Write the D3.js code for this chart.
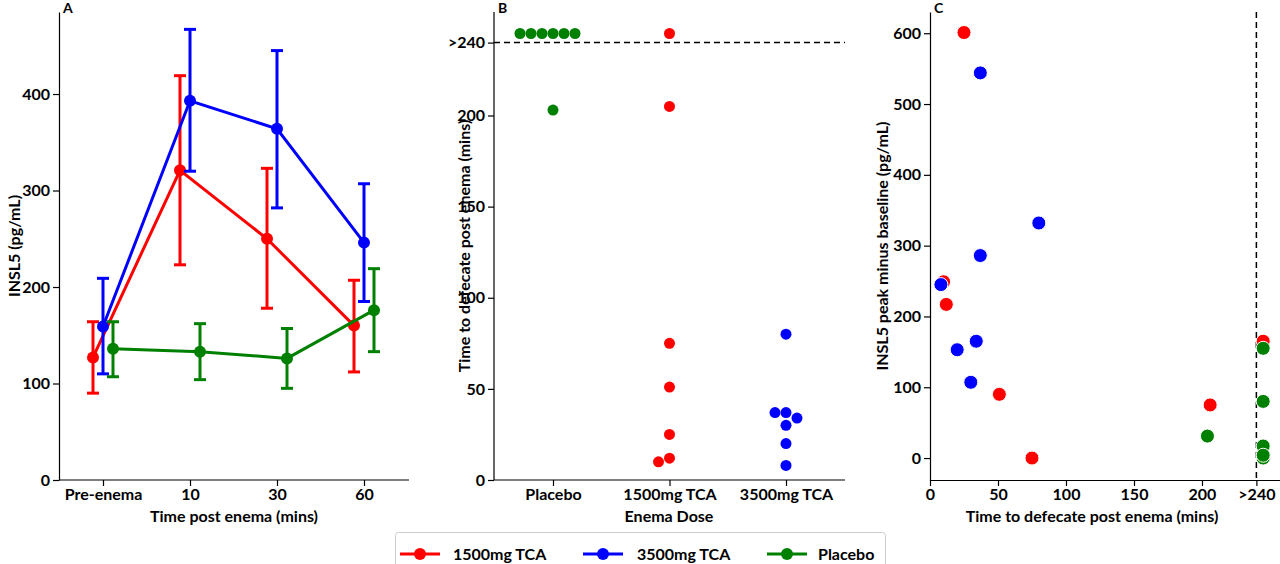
<!DOCTYPE html><html><head><meta charset="utf-8">
<script src="https://cdn.jsdelivr.net/npm/d3@7"></script>
<style>body{margin:0;background:#fff}text{font-family:Lato,"Open Sans",sans-serif;font-weight:bold}</style></head><body>
<svg id="c" width="1280" height="564"></svg>
<script>
// ---- Data ----
const timeLabels = ["Pre-enema","10","30","60"];
const seriesNames = ["1500mg TCA","3500mg TCA","Placebo"];
const colors = ["#ff0000","#0000ff","#008000"];
const meanRed = [127,321,250,160], loRed=[90,223,178,112], hiRed=[164,419,323,207];
const meanBlue = [159,393,364,246], loBlue=[110,320,282,185], hiBlue=[209,467,445,307];
const meanGreen = [136,133,126,176], loGreen=[107,104,95,133], hiGreen=[164,162,157,219];
const doseCats = ["Placebo","1500mg TCA","3500mg TCA"];
const timePlacebo = [245,245,245,245,245,245,203];
const time1500 = [245,205,75,51,25,12,10];
const time3500 = [80,37,37,34,30,20,8];
const cRedX=[25,10,12,51,75,206,245], cRedY=[601,249,217,90,0,75,165];
const cBlueX=[37,80,37,8,20,34,30], cBlueY=[544,332,286,245,153,165,107];
const cGreenX=[204,245,245,245,245,245], cGreenY=[31,155,80,17,0,4];

const svg=d3.select("#c");
const fs=16;
function xTitle(g,x,t){g.append("text").attr("x",x).attr("y",522).attr("text-anchor","middle").attr("font-size",fs).text(t);}
function yTitle(g,x,t){g.append("text").attr("transform",`translate(${x},246) rotate(-90)`).attr("text-anchor","middle").attr("font-size",fs).text(t);}
// ---- Panel A ----
{
 const x=d3.scalePoint().domain(timeLabels).range([103,364]);
 const y=d3.scaleLinear().domain([0,485]).range([480,12]);
 const g=svg.append("g");
 g.append("g").attr("transform","translate(0,480)").call(d3.axisBottom(x).tickSizeOuter(0)).call(a=>{a.select(".domain").attr("d","M59,0H409");});
 g.append("g").attr("transform","translate(59,0)").call(d3.axisLeft(y).tickValues([0,100,200,300,400]).tickSizeOuter(0));
 const S=[[meanRed,loRed,hiRed,-10],[meanBlue,loBlue,hiBlue,0],[meanGreen,loGreen,hiGreen,10]];
 S.forEach(([m,lo,hi,off],si)=>{
  const px=i=>x(timeLabels[i])+off;
  g.append("path").attr("d",d3.line().x((d,i)=>px(i)).y(d=>y(d))(m)).attr("fill","none").attr("stroke",colors[si]).attr("stroke-width",3);
  m.forEach((v,i)=>{
   const X=px(i);
   g.append("line").attr("x1",X).attr("x2",X).attr("y1",y(lo[i])).attr("y2",y(hi[i])).attr("stroke",colors[si]).attr("stroke-width",3);
   [lo[i],hi[i]].forEach(e=>g.append("line").attr("x1",X-6).attr("x2",X+6).attr("y1",y(e)).attr("y2",y(e)).attr("stroke",colors[si]).attr("stroke-width",3));
   g.append("circle").attr("cx",X).attr("cy",y(v)).attr("r",6).attr("fill",colors[si]);
  });
 });
 g.append("text").attr("x",63).attr("y",13).text("A").attr("font-size",14);
 xTitle(g,234,"Time post enema (mins)");
 yTitle(g,20,"INSL5 (pg/mL)");
}
// ---- Panel B ----
{
 const x=d3.scalePoint().domain(doseCats).range([553,786]);
 const y=d3.scaleLinear().domain([0,240]).range([480,42.6]);
 const g=svg.append("g");
 g.append("g").attr("transform","translate(0,480)").call(d3.axisBottom(x).tickSizeOuter(0)).call(a=>{a.select(".domain").attr("d","M494,0H845");});
 g.append("g").attr("transform","translate(494,0)").call(d3.axisLeft(y).tickValues([0,50,100,150,200,240]).tickFormat(d=>d===240?">240":d).tickSizeOuter(0)).call(a=>a.select(".domain").attr("d","M0,480V12"));
 g.append("line").attr("x1",494).attr("x2",845).attr("y1",y(240)).attr("y2",y(240)).attr("stroke","#000").attr("stroke-width",1.5).attr("stroke-dasharray","6,4");
 const groups=[timePlacebo,time1500,time3500], gc=[colors[2],colors[0],colors[1]];
 const r=5.5, dia=11, order=[0,-1,1,-2,2,-3,3];
 groups.forEach((vals,gi)=>{
  const placed=[];
  vals.forEach(v=>{
   const cy=y(v);
   let cx;
   for(const o of order){
    const tx=x(doseCats[gi])+o*dia;
    if(placed.every(p=>Math.hypot(p[0]-tx,p[1]-cy)>=dia-0.5)){cx=tx;break;}
   }
   placed.push([cx,cy]);
   g.append("circle").attr("cx",cx).attr("cy",cy).attr("r",r).attr("fill",gc[gi]);
  });
 });
 g.append("text").attr("x",498).attr("y",13).text("B").attr("font-size",14);
 xTitle(g,669,"Enema Dose");
 yTitle(g,470,"Time to defecate post enema (mins)");
}
// ---- Panel C ----
{
 const x=d3.scaleLinear().domain([0,257]).range([930,1279.5]);
 const y=d3.scaleLinear().domain([-31,630]).range([480,12]);
 const g=svg.append("g");
 g.append("g").attr("transform","translate(0,480)").call(d3.axisBottom(x).tickValues([0,50,100,150,200,240]).tickFormat(d=>d===240?">240":d).tickSizeOuter(0));
 g.append("g").attr("transform","translate(930,0)").call(d3.axisLeft(y).tickValues([0,100,200,300,400,500,600]).tickSizeOuter(0));
 g.append("line").attr("x1",x(240)).attr("x2",x(240)).attr("y1",12).attr("y2",480).attr("stroke","#000").attr("stroke-width",1.5).attr("stroke-dasharray","6,4");
 [[cRedX,cRedY,0],[cBlueX,cBlueY,1],[cGreenX,cGreenY,2]].forEach(([xs,ys,ci])=>{
  xs.forEach((v,i)=>g.append("circle").attr("cx",x(v)).attr("cy",y(ys[i])).attr("r",7).attr("fill",colors[ci]).attr("stroke","#fff").attr("stroke-width",1));
 });
 g.append("text").attr("x",934).attr("y",13).text("C").attr("font-size",14);
 xTitle(g,1092,"Time to defecate post enema (mins)");
 yTitle(g,888,"INSL5 peak minus baseline (pg/mL)");
}
svg.selectAll(".tick text").attr("font-size",fs).attr("fill","#000").attr("font-family","Lato");
svg.selectAll(".domain,.tick line").attr("stroke","#000").attr("stroke-width",1.2);
// ---- Legend ----
{
 const g=svg.append("g");
 g.append("rect").attr("x",395.5).attr("y",532.5).attr("width",490).attr("height",40).attr("rx",3).attr("fill","#fff").attr("stroke","#ccc");
 const lx=[400,583,767], tx=[453,637,818];
 seriesNames.forEach((n,i)=>{
  g.append("line").attr("x1",lx[i]).attr("x2",lx[i]+40).attr("y1",554).attr("y2",554).attr("stroke",colors[i]).attr("stroke-width",3);
  g.append("circle").attr("cx",lx[i]+20).attr("cy",554).attr("r",6).attr("fill",colors[i]);
  g.append("text").attr("x",tx[i]).attr("y",560).attr("font-size",fs).text(n);
 });
}
</script></body></html>
